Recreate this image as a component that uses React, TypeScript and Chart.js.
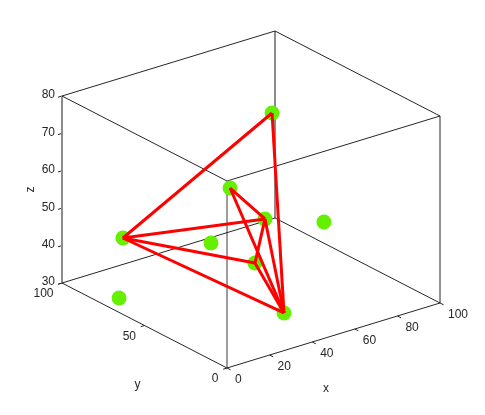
import React, { useEffect, useRef } from "react";
import { Chart, registerables } from "chart.js";

Chart.register(...registerables);

// ---- data (3D points) ----
const xVals = [62.9, 50.4, 53.7, 22.3, 45.4, 46.9, 37.6, 69.3, 8.2];
const yVals = [53.9, 63.2, 46.3, 91.9, 68.3, 43.6, 14.0, 30.7, 76.0];
const zVals = [75, 55, 50, 40, 40, 40, 35, 50, 30];
// edges between points (indices)
const edgeFrom = [3, 0, 3, 3, 3, 1, 1, 2, 2, 5];
const edgeTo = [0, 6, 2, 5, 6, 2, 6, 5, 6, 6];

// ---- axes ----
const xRange = [0, 100];
const yRange = [0, 100];
const zRange = [30, 80];
const xTicks = [0, 20, 40, 60, 80, 100];
const yTicks = [0, 50, 100];
const zTicks = [30, 40, 50, 60, 70, 80];

// ---- view (orthographic projection of the unit box onto the canvas plane) ----
const VIEW = {
  origin: [227, 368],
  ex: [213, -65],
  ey: [-165, -85],
  ez: [0, -187],
};

function proj(x: number, y: number, z: number) {
  const u = (x - xRange[0]) / (xRange[1] - xRange[0]);
  const v = (y - yRange[0]) / (yRange[1] - yRange[0]);
  const w = (z - zRange[0]) / (zRange[1] - zRange[0]);
  return {
    x: VIEW.origin[0] + VIEW.ex[0] * u + VIEW.ey[0] * v + VIEW.ez[0] * w,
    y: VIEW.origin[1] + VIEW.ex[1] * u + VIEW.ey[1] * v + VIEW.ez[1] * w,
  };
}

const W = 485;
const H = 415;
const FONT = '12px "Liberation Sans", Arial, sans-serif';
const TXT = "#262626";

export default function App() {
  const ref = useRef<HTMLCanvasElement>(null);

  useEffect(() => {
    if (!ref.current) return;
    const [x0, x1] = xRange;
    const [y0, y1] = yRange;
    const [z0, z1] = zRange;
    const boxEdges: [number[], number[], string, number][] = [
      // top
      [[x0, y1, z1], [x1, y1, z1], "#262626", 1],
      [[x1, y1, z1], [x1, y0, z1], "#262626", 1],
      [[x0, y1, z1], [x0, y0, z1], "#262626", 1],
      [[x0, y0, z1], [x1, y0, z1], "#262626", 1],
      // bottom
      [[x0, y1, z0], [x0, y0, z0], "#262626", 1],
      [[x0, y0, z0], [x1, y0, z0], "#262626", 1],
      [[x0, y1, z0], [x1, y1, z0], "#262626", 1],
      [[x1, y1, z0], [x1, y0, z0], "#262626", 1],
      // verticals
      [[x0, y1, z0], [x0, y1, z1], "#8c8c8c", 2],
      [[x1, y1, z0], [x1, y1, z1], "#8c8c8c", 2],
      [[x0, y0, z0], [x0, y0, z1], "#3a3a3a", 1],
      [[x1, y0, z0], [x1, y0, z1], "#262626", 1],
    ];

    const datasets: any[] = [];
    boxEdges.forEach(([a, b, c, lw]) => {
      datasets.push({
        type: "scatter",
        data: [proj(a[0], a[1], a[2]), proj(b[0], b[1], b[2])],
        showLine: true,
        borderColor: c,
        borderWidth: lw,
        pointRadius: 0,
        order: 3,
      });
    });
    datasets.push({
      type: "scatter",
      data: xVals.map((x, i) => proj(x, yVals[i], zVals[i])),
      pointRadius: 7.5,
      pointBackgroundColor: "rgb(100,240,0)",
      pointBorderColor: "rgb(100,240,0)",
      pointBorderWidth: 0,
      showLine: false,
      order: 2,
    });
    edgeFrom.forEach((f, k) => {
      const t = edgeTo[k];
      datasets.push({
        type: "scatter",
        data: [proj(xVals[f], yVals[f], zVals[f]), proj(xVals[t], yVals[t], zVals[t])],
        showLine: true,
        borderColor: "#ff0000",
        borderWidth: 3,
        pointRadius: 0,
        order: 1,
      });
    });

    const axisPlugin = {
      id: "axis3d",
      beforeDatasetsDraw(chart: any) {
        const ctx = chart.ctx;
        const sx = chart.scales.x;
        const sy = chart.scales.y;
        const px = (p: { x: number; y: number }) => ({
          x: sx.getPixelForValue(p.x),
          y: sy.getPixelForValue(p.y),
        });
        ctx.save();
        ctx.strokeStyle = TXT;
        ctx.fillStyle = TXT;
        ctx.lineWidth = 1;
        ctx.font = FONT;
        const tick = (p: { x: number; y: number }, dx: number, dy: number) => {
          ctx.beginPath();
          ctx.moveTo(p.x, p.y);
          ctx.lineTo(p.x + dx, p.y + dy);
          ctx.stroke();
        };
        // x ticks
        ctx.textAlign = "left";
        ctx.textBaseline = "middle";
        xTicks.forEach((t) => {
          const p = px(proj(t, y0, z0));
          tick(p, 3.6, 1.8);
          ctx.fillText(String(t), p.x + 8, p.y + 12);
        });
        // y ticks
        ctx.textAlign = "right";
        yTicks.forEach((t) => {
          const p = px(proj(x0, t, z0));
          tick(p, -3.8, 1.2);
          ctx.fillText(String(t), p.x - 8.5, p.y + 11);
        });
        // z ticks
        zTicks.forEach((t) => {
          const p = px(proj(x0, y1, t));
          tick(p, -4, 1.2);
          ctx.fillText(String(t), p.x - 7, p.y - 1);
        });
        // axis labels
        ctx.textAlign = "center";
        const xl = px(proj((x0 + x1) / 2, y0, z0));
        ctx.fillText("x", xl.x - 7.5, xl.y + 53);
        const yl = px(proj(x0, (y0 + y1) / 2, z0));
        ctx.fillText("y", yl.x - 7, yl.y + 59);
        const zl = px(proj(x0, y1, (z0 + z1) / 2));
        ctx.translate(zl.x - 31, zl.y);
        ctx.rotate(-Math.PI / 2);
        ctx.fillText("z", 0, 0);
        ctx.restore();
      },
    };

    const chart = new Chart(ref.current, {
      type: "scatter",
      data: { datasets },
      options: {
        animation: false,
        responsive: false,
        events: [],
        layout: { padding: 0, autoPadding: false },
        plugins: { legend: { display: false }, tooltip: { enabled: false } },
        scales: {
          x: { type: "linear", min: 0, max: W, display: false },
          y: { type: "linear", min: 0, max: H, reverse: true, display: false },
        },
      },
      plugins: [axisPlugin],
    });
    return () => chart.destroy();
  }, []);

  return (
    <div style={{ position: "fixed", left: 0, top: 0, width: W, height: H, background: "#fff" }}>
      <canvas ref={ref} width={W} height={H} style={{ width: W, height: H, display: "block" }} />
    </div>
  );
}
